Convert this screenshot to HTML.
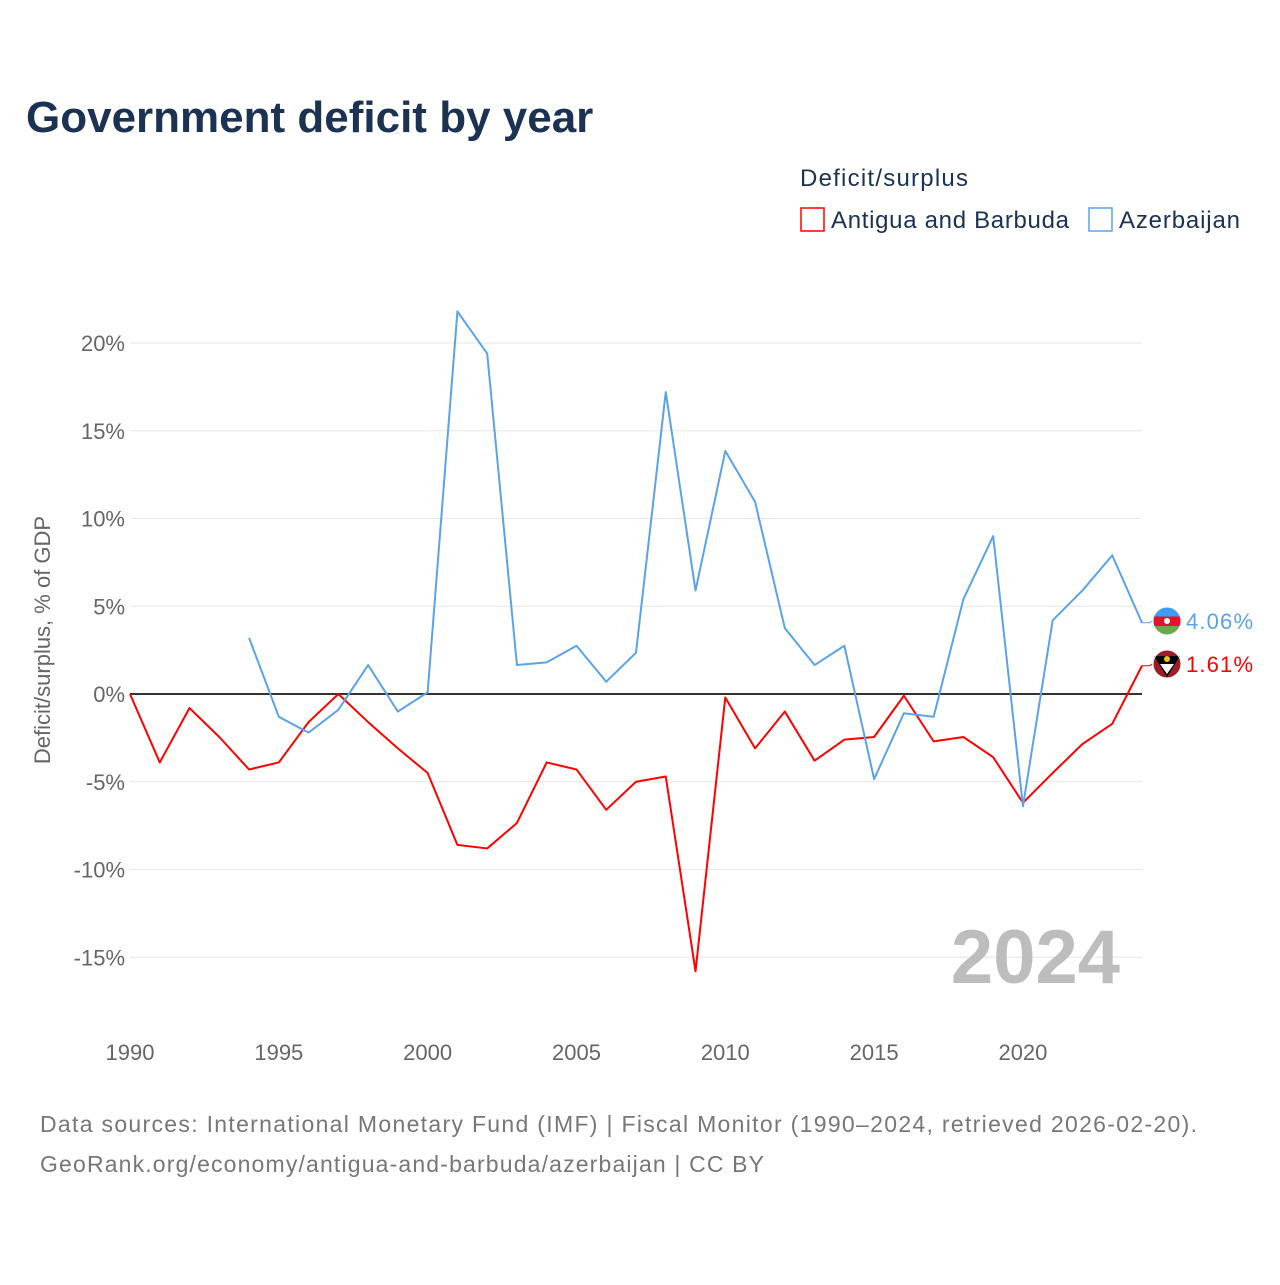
<!DOCTYPE html>
<html><head><meta charset="utf-8">
<style>
body{margin:0;background:#fff;font-family:"Liberation Sans",sans-serif;}
svg text{font-family:"Liberation Sans",sans-serif;}
</style></head>
<body>
<svg id="chart" width="1280" height="1280" xmlns="http://www.w3.org/2000/svg">
<defs>
<clipPath id="clipAz"><circle cx="1167" cy="621" r="14"/></clipPath>
</defs>
<rect width="1280" height="1280" fill="#fff"/>
<text x="26" y="132" font-size="44" font-weight="bold" fill="#1b3253">Government deficit by year</text>
<text x="800" y="186" font-size="24" fill="#1b3253" textLength="168">Deficit/surplus</text>
<g>
<rect x="801" y="208" width="23" height="23" fill="#fff" stroke="#ff0000" stroke-width="1.5"/>
<text x="831" y="228" font-size="24" fill="#1b3253" textLength="238">Antigua and Barbuda</text>
</g>
<g>
<rect x="1089" y="208" width="23" height="23" fill="#fff" stroke="#5ba3e8" stroke-width="1.5"/>
<text x="1119" y="228" font-size="24" fill="#1b3253" textLength="121">Azerbaijan</text>
</g>
<text transform="translate(50,640) rotate(-90)" text-anchor="middle" font-size="22" fill="#666">Deficit/surplus, % of GDP</text>
<g id="grid"></g><g id="xticks"></g><g id="series"></g>
<text x="1120" y="983" text-anchor="end" font-size="76" font-weight="bold" fill="#bdbdbd">2024</text>
<text x="40" y="1132" font-size="23" fill="#777" textLength="1157">Data sources: International Monetary Fund (IMF) | Fiscal Monitor (1990–2024, retrieved 2026-02-20).</text>
<text x="40" y="1172" font-size="23" fill="#777" textLength="724">GeoRank.org/economy/antigua-and-barbuda/azerbaijan | CC BY</text>
</svg>
<script>
const yTicks=[20,15,10,5,0,-5,-10,-15];
const xTickYears=[1990,1995,2000,2005,2010,2015,2020];
const antiguaYears=[1990,1991,1992,1993,1994,1995,1996,1997,1998,1999,2000,2001,2002,2003,2004,2005,2006,2007,2008,2009,2010,2011,2012,2013,2014,2015,2016,2017,2018,2019,2020,2021,2022,2023,2024];
const antiguaValues=[0,-3.9,-0.8,-2.45,-4.3,-3.9,-1.6,0,-1.6,-3.1,-4.5,-8.6,-8.8,-7.35,-3.9,-4.3,-6.6,-5.0,-4.7,-15.8,-0.2,-3.1,-1.0,-3.8,-2.6,-2.45,-0.1,-2.7,-2.45,-3.6,-6.2,-4.5,-2.85,-1.7,1.61];
const azerYears=[1994,1995,1996,1997,1998,1999,2000,2001,2002,2003,2004,2005,2006,2007,2008,2009,2010,2011,2012,2013,2014,2015,2016,2017,2018,2019,2020,2021,2022,2023,2024];
const azerValues=[3.2,-1.3,-2.2,-0.9,1.65,-1.0,0.1,21.8,19.4,1.65,1.8,2.75,0.7,2.35,17.2,5.9,13.85,10.95,3.75,1.65,2.75,-4.85,-1.1,-1.3,5.4,9.0,-6.4,4.2,5.9,7.9,4.06];
const NS="http://www.w3.org/2000/svg";
const x=yr=>130+(yr-1990)*(1142-130)/34;
const y=v=>694-v*17.55;
function mk(t,a,p){const e=document.createElementNS(NS,t);for(const k in a)e.setAttribute(k,a[k]);p.appendChild(e);return e;}
const grid=document.getElementById('grid');
yTicks.forEach(v=>{
 const l=mk('line',{x1:130,x2:1142,y1:y(v),y2:y(v),stroke:v===0?'#333':'#e6e6e6','stroke-width':v===0?2:1},grid);
 
 
 const t=mk('text',{x:125,y:y(v)+8,'text-anchor':'end','font-size':22,fill:'#666'},grid);
 t.textContent=v+'%';
 
 
});
const xt=document.getElementById('xticks');
xTickYears.forEach(yr=>{
 const t=mk('text',{x:x(yr),y:1060,'text-anchor':'middle','font-size':22,fill:'#666'},xt);
 t.textContent=yr;
 
 
});
const s=document.getElementById('series');
function series(ys,vs,col,name){
 const p=mk('polyline',{points:ys.map((yr,i)=>x(yr)+','+y(vs[i])).join(' '),fill:'none',stroke:col,'stroke-width':2,'stroke-linejoin':'round'},s);
 
 
}
series(antiguaYears,antiguaValues,'#ff0000','antigua');
series(azerYears,azerValues,'#5ba3e8','azerbaijan');
function endLabel(v,col,name,flag){
 const yy=y(v);
 const ly=name==='azerbaijan'?621:664;
 mk('polyline',{points:`${x(2024)},${yy} 1150,${yy} 1152,${ly}`,fill:'none',stroke:col,'stroke-width':1},s);
 const g=mk('g',{},s);
 
 
 if(flag==='az'){
  const c=mk('g',{'clip-path':'url(#clipAz)'},g);
  mk('rect',{x:1153,y:ly-14,width:28,height:9.5,fill:'#3f9cf0'},c);
  mk('rect',{x:1153,y:ly-4.5,width:28,height:9.5,fill:'#e8112d'},c);
  mk('rect',{x:1153,y:ly+5,width:28,height:9.5,fill:'#6aa84f'},c);
  mk('circle',{cx:1167,cy:ly,r:3,fill:'#fff'},c);
 }else{
  mk('circle',{cx:1167,cy:ly,r:14,fill:'#9e1b2a'},g);
  mk('polygon',{points:`1154,${ly-8} 1180,${ly-8} 1167,${ly+13}`,fill:'#000'},g);
  mk('polygon',{points:`1160,${ly} 1174,${ly} 1167,${ly+10}`,fill:'#fff'},g);
  mk('circle',{cx:1167,cy:ly-5,r:3,fill:'#f5c400'},g);
 }
 mk('circle',{cx:1167,cy:ly,r:14,fill:'none',stroke:'#fff','stroke-width':1},g);
 const t=mk('text',{x:1186,y:ly+8,'font-size':22,fill:col,textLength:67},s);
 t.textContent=v.toFixed(2)+'%';
 
 
}
endLabel(azerValues[azerValues.length-1],'#5ba3e8','azerbaijan','az');
endLabel(antiguaValues[antiguaValues.length-1],'#ff0000','antigua','ag');
</script>
</body></html>
